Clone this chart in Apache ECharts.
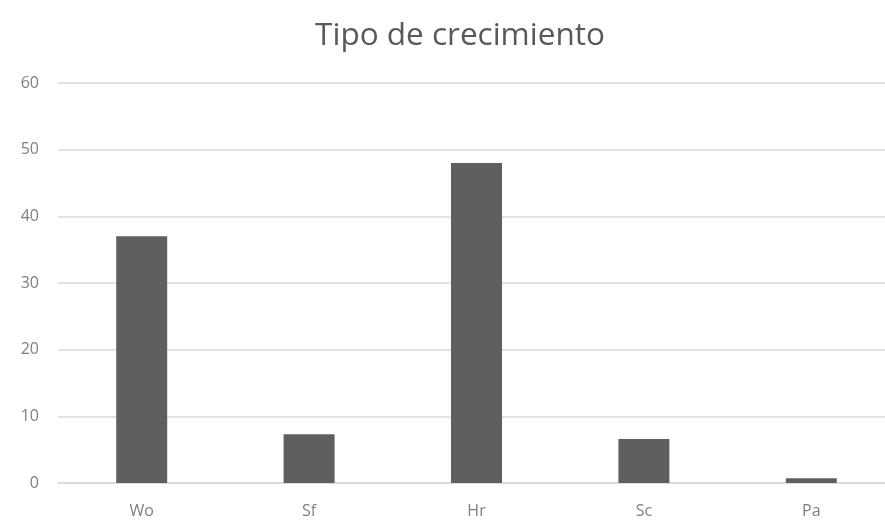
<!DOCTYPE html>
<html>
<head>
<meta charset="utf-8">
<script src="https://cdn.jsdelivr.net/npm/echarts@6/dist/echarts.min.js"></script>
<style>
  html, body { margin: 0; padding: 0; background: #fff; }
  #chart { width: 885px; height: 523px; }
</style>
</head>
<body>
<div id="chart"></div>
<script>
const categories = ['Wo', 'Sf', 'Hr', 'Sc', 'Pa'];
const values = [37, 7.3, 48, 6.6, 0.7];
const yTicks = { min: 0, max: 60, interval: 10 };

const chart = echarts.init(document.getElementById('chart'));

const textColor = '#7f7f7f';

chart.setOption({
    animation: false,
    backgroundColor: '#ffffff',
    title: {
        text: 'Tipo de crecimiento',
        left: 455,
        textAlign: 'center',
        top: 15,
        textStyle: {
            fontFamily: 'Open Sans',
            fontSize: 31.5,
            fontWeight: 'normal',
            color: '#595959'
        }
    },
    grid: {
        left: 58,
        top: 83,
        width: 837,
        height: 400,
        containLabel: false,
        outerBoundsMode: 'none'
    },
    xAxis: {
        type: 'category',
        data: categories,
        axisLine: { show: true, lineStyle: { color: '#d9d9d9', width: 1.5 } },
        axisTick: { show: false },
        axisLabel: {
            margin: 20,
            fontFamily: 'Open Sans',
            fontSize: 16,
            color: textColor
        }
    },
    yAxis: {
        type: 'value',
        min: yTicks.min,
        max: yTicks.max,
        interval: yTicks.interval,
        axisLine: { show: false },
        axisTick: { show: false },
        splitLine: { lineStyle: { color: '#d9d9d9', width: 1.5 } },
        axisLabel: {
            margin: 19,
            fontFamily: 'Open Sans',
            fontSize: 16,
            color: textColor
        }
    },
    series: [{
        type: 'bar',
        data: values,
        barWidth: 51,
        itemStyle: { color: '#5f5f5f' }
    }]
});
</script>
</body>
</html>
